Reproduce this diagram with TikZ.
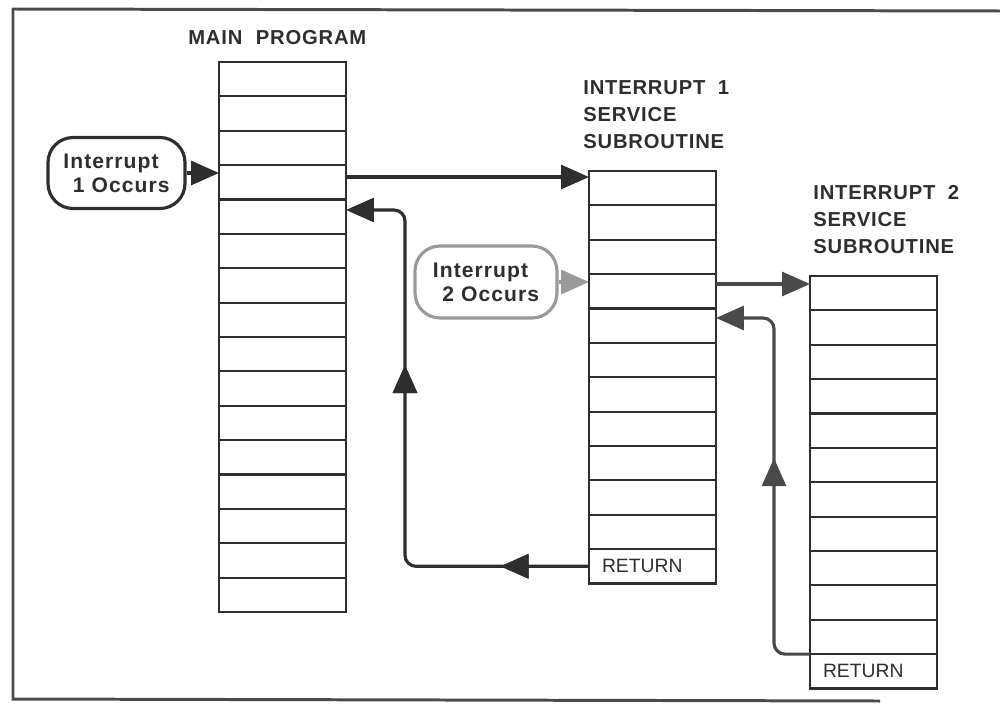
\documentclass[tikz,border=0pt]{standalone}
\usepackage{fontspec}
\setmainfont{Liberation Sans}
\newfontfamily\spaced[LetterSpace=4]{Liberation Sans}
\newfontfamily\boxspaced[LetterSpace=5]{Liberation Sans}
\usetikzlibrary{arrows.meta,decorations.markings,calc}

\definecolor{ink}{HTML}{2E2E2E}
\definecolor{grain}{HTML}{4A4A4A}
\definecolor{halftone}{HTML}{9A9A9A}

\tikzset{
  bigtip/.tip={Triangle[length=0.56cm,width=0.48cm]},
  cell/.style={draw=ink, line width=1.2pt, minimum width=2.54cm,
    minimum height=0.6875cm, inner sep=0pt, outer sep=0pt, anchor=north west},
  retcell/.style={cell, text width=2.02cm, inner xsep=0.26cm, align=left,
    font=\fontsize{11}{13}\selectfont, text=ink},
  heading/.style={anchor=north west, align=left, text=ink, inner sep=0pt,
    font=\spaced\bfseries\fontsize{11.5}{15.4}\selectfont},
  event/.style={rounded corners=0.5cm, line width=1.8pt, align=left,
    inner sep=0pt, text=ink, font=\boxspaced\bfseries\fontsize{12}{13.6}\selectfont},
  link/.style={draw=ink, line width=1.8pt, -bigtip},
  greylink/.style={draw=grain, line width=1.8pt, -bigtip},
  midtip/.style={postaction={decorate}, decoration={markings,
    mark=at position #1 with {\arrow{bigtip}}}},
}

\begin{document}
\begin{tikzpicture}[x=0.02cm, y=-0.02cm]
  \useasboundingbox (0,0) rectangle (1000,706);

  % outer frame, open on the right
  \draw[draw=grain, line width=1.7pt] (1000,11) -- (13,9) -- (13,699) -- (880,701);

  % main program column
  \node[heading] (mainlbl) at (188,30) {MAIN\hspace{0.35em} PROGRAM};
  \foreach \i in {1,...,16}
    \node[cell] (m\i) at (219,{62+(\i-1)*34.375}) {};

  % interrupt 1 service subroutine
  \node[heading] (isr1lbl) at (583,80) {INTERRUPT\hspace{0.3em} 1\\SERVICE\\SUBROUTINE};
  \foreach \i in {1,...,11}
    \node[cell] (s\i) at (589,{171+(\i-1)*34.375}) {};
  \node[retcell] (s12) at (589,{171+11*34.375}) {RETURN};

  % interrupt 2 service subroutine
  \node[heading] (isr2lbl) at (813,185) {INTERRUPT\hspace{0.3em} 2\\SERVICE\\SUBROUTINE};
  \foreach \i in {1,...,11}
    \node[cell] (t\i) at (810,{276+(\i-1)*34.375}) {};
  \node[retcell] (t12) at (810,{276+11*34.375}) {RETURN};

  % interrupt events
  \node[event, draw=ink, minimum width=2.74cm, minimum height=1.42cm]
    (i1) at (116.5,173) {Interrupt\\\hspace*{0.45em}1 Occurs};
  \node[event, draw=halftone, minimum width=2.84cm, minimum height=1.44cm]
    (i2) at (486,282) {Interrupt\\\hspace*{0.45em}2 Occurs};

  % helper points for the return paths
  \coordinate (m5r) at ([yshift=0.134cm]m5.east);
  \coordinate (s5r) at ([yshift=0.154cm]s5.east);
  \coordinate (m4r) at ([yshift=0.106cm]m4.east);
  \coordinate (c1) at (405,0);
  \coordinate (c2) at (774,0);

  % interrupt 1: entry and return
  \draw[link] (i1.east) -- (i1.east -| m4.west);
  \draw[link] (m4r) -- (m4r -| s1.west);
  \draw[link, rounded corners=0.22cm, midtip=0.15, midtip=0.645]
    (s12.west) -| (c1 |- m5r) -- (m5r);

  % interrupt 2: entry and return
  \draw[draw=halftone, line width=1.8pt, -bigtip] (i2.east) -- (i2.east -| s4.west);
  \draw[greylink] ([yshift=-0.04cm]s4.east |- i2.east) -- ([yshift=-0.04cm]t1.west |- i2.east);
  \draw[greylink, rounded corners=0.22cm, midtip=0.54]
    (t12.north west) -| (c2 |- s5r) -- (s5r);
\end{tikzpicture}
\end{document}
